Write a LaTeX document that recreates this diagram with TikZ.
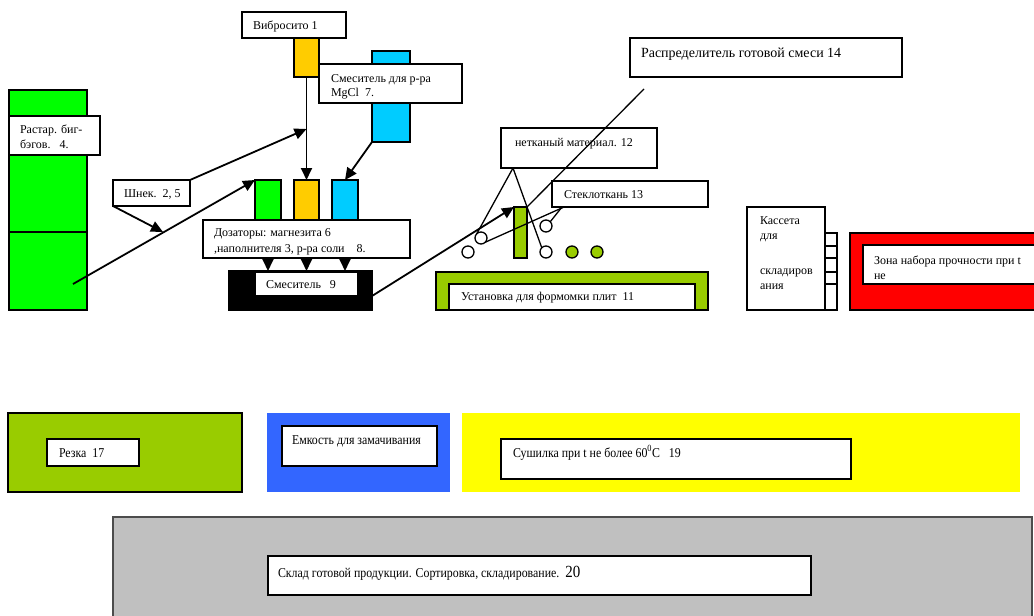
\documentclass[tikz,border=0pt]{standalone}
\usepackage{fontspec}
\setmainfont{Liberation Serif}
\usetikzlibrary{arrows.meta}
\definecolor{cgreen}{HTML}{00FF00}
\definecolor{corange}{HTML}{FFCC00}
\definecolor{ccyan}{HTML}{00CCFF}
\definecolor{colive}{HTML}{99CC00}
\definecolor{cred}{HTML}{FF0000}
\definecolor{cblue}{HTML}{3366FF}
\definecolor{cyellow}{HTML}{FFFF00}
\definecolor{cgray}{HTML}{C0C0C0}
\newcommand\fA{\fontsize{12}{14}\selectfont}
\newcommand\fC{\fontsize{14}{16}\selectfont}
\newcommand\fB{\fontsize{13.5}{16}\selectfont}
\newcommand\cond[1]{\scalebox{0.88}[1]{#1}}
\tikzset{
  box/.style={draw=black, line width=1.6pt, fill=white, inner sep=0pt, outer sep=0pt, anchor=north west},
  plain/.style={inner sep=0pt, outer sep=0pt, anchor=north west},
  lbl/.style={anchor=base west, inner sep=0pt, outer sep=0pt, font=\fA},
  lblb/.style={anchor=base west, inner sep=0pt, outer sep=0pt, font=\fB},
  arr/.style={line width=1.8pt, -{Triangle[length=12pt,width=11pt]}},
  thinl/.style={line width=1.3pt},
  circ/.style={circle, draw=black, line width=1.3pt, fill=white, minimum size=12pt, inner sep=0pt, outer sep=0pt},
}
\begin{document}
\begin{tikzpicture}[x=1pt,y=-1pt]
\useasboundingbox (0,0) rectangle (1034,616);
\clip (0,0) rectangle (1034,616);
% top left group
\node[box, minimum width=104pt, minimum height=26pt] (vib) at (242,12) {};
\node[lbl] (vibt) at (253,29) {Вибросито 1};
\node[box, fill=corange, minimum width=25pt, minimum height=39pt] (orTop) at (294,38) {};
\node[box, fill=ccyan, minimum width=38pt, minimum height=91pt] (blTop) at (372,51) {};
\node[box, minimum width=143pt, minimum height=39pt] (mgcl) at (319,64) {};
\node[lbl] (mgclt1) at (331,82) {Смеситель для р-ра};
\node[lbl] (mgclt2) at (331,96) {MgCl\ \ 7.};
\node[box, fill=cgreen, minimum width=78pt, minimum height=142pt] (grTa) at (9,90) {};
\node[box, fill=cgreen, minimum width=78pt, minimum height=78pt] (grTb) at (9,232) {};
\node[box, minimum width=91pt, minimum height=39pt] (rast) at (9,116) {};
\node[lbl] (rastt1) at (20,133) {Растар. биг-};
\node[lbl] (rastt2) at (20,148) {бэгов.\ \ \ 4.};
\node[box, minimum width=77pt, minimum height=26pt] (shnek) at (113,180) {};
\node[lbl] (shnekt) at (124,197) {Шнек.\ \ 2, 5};
\node[box, fill=cgreen, minimum width=26pt, minimum height=40pt] (grDoz) at (255,180) {};
\node[box, fill=corange, minimum width=25pt, minimum height=40pt] (orDoz) at (294,180) {};
\node[box, fill=ccyan, minimum width=26pt, minimum height=40pt] (blDoz) at (332,180) {};
\node[box, minimum width=207pt, minimum height=38pt] (doz) at (203,220) {};
\node[lbl] (dozt1) at (214,236) {Дозаторы: магнезита 6};
\node[lbl] (dozt2) at (214,252) {,наполнителя 3, р-ра соли\ \ \ \ 8.};
\node[box, fill=black, minimum width=143pt, minimum height=39pt] (black) at (229,271) {};
\node[box, minimum width=103pt, minimum height=24pt] (mix) at (255,272) {};
\node[lbl] (mixt) at (266,288) {Смеситель\ \ \ 9};
% connectors top left
\coordinate (j1) at (306.5,129);
\coordinate (j2) at (163,232);
\coordinate (s1) at (73,284);
\coordinate (b1) at (372,296);
\draw[arr] (orTop.south) -- (orDoz.north);
\draw[arr] (shnek.north east) -- (j1);
\draw[arr] (shnek.south west) -- (j2);
\draw[arr] (s1) -- (grDoz.north west);
\draw[arr] (blTop.south west) -- (blDoz.north);
\draw[arr] (grDoz.south |- doz.south) -- (grDoz.south |- black.north);
\draw[arr] (orDoz.south |- doz.south) -- (orDoz.south |- black.north);
\draw[arr] (blDoz.south |- doz.south) -- (blDoz.south |- black.north);
% middle group
\node[box, minimum width=272pt, minimum height=39pt] (distr) at (630,38) {};
\node[lbl, font=\fC] (distrt) at (641,57) {Распределитель готовой смеси 14};
\node[box, minimum width=156pt, minimum height=40pt] (netk) at (501,128) {};
\node[lbl] (netkt) at (515,146) {нетканый материал. 12};
\node[box, minimum width=156pt, minimum height=26pt] (stekl) at (552,181) {};
\node[lbl] (steklt) at (564,198) {Стеклоткань 13};
\node[box, fill=colive, minimum width=13pt, minimum height=51pt] (gbar) at (514,207) {};
\node[circ] (c1) at (468,252) {};
\node[circ] (c2) at (481,238) {};
\node[circ] (c3) at (546,226) {};
\node[circ] (c4) at (546,252) {};
\node[circ, fill=colive] (c5) at (572,252) {};
\node[circ, fill=colive] (c6) at (597,252) {};
\coordinate (d1) at (644,89);
\coordinate (n1) at (513,168);
\draw[thinl] (d1) -- (gbar.north east);
\draw[thinl] (n1) -- (c2.north west);
\draw[thinl] (n1) -- (c4.north west);
\draw[thinl] ([xshift=12pt]stekl.south west) -- (c2.south east);
\draw[thinl] ([xshift=10pt]stekl.south west) -- (c3.north east);
\draw[arr] (b1) -- (gbar.north west);
\node[box, fill=colive, minimum width=272pt, minimum height=38pt] (ust) at (436,272) {};
\node[box, minimum width=246pt, minimum height=26pt] (usti) at (449,284) {};
\node[lbl] (ustt) at (461,300) {Установка для формомки плит\ \ 11};
% cassette
\node[box, minimum width=78pt, minimum height=103pt] (kass) at (747,207) {};
\node[lbl] (kasst1) at (760,224) {Кассета};
\node[lbl] (kasst2) at (760,239) {для};
\node[lbl] (kasst3) at (760,274) {складиров};
\node[lbl] (kasst4) at (760,289) {ания};
\draw[line width=1.6pt] (825,233) rectangle (837,310);
\draw[line width=1.3pt] (825,246) -- (837,246) (825,258) -- (837,258) (825,272) -- (837,272) (825,284) -- (837,284);
\node[box, fill=cred, minimum width=200pt, minimum height=77pt] (red) at (850,233) {};
\node[box, minimum width=190pt, minimum height=39pt] (zona) at (863,245) {};
\node[lbl] (zonat1) at (874,264) {Зона набора прочности при t};
\node[lbl] (zonat2) at (874,279) {не};
% bottom group
\node[box, fill=colive, minimum width=234pt, minimum height=79pt] (rezka) at (8,413) {};
\node[box, minimum width=92pt, minimum height=27pt] (rezkai) at (47,439) {};
\node[lblb] (rezkat) at (59,457) {\cond{Резка\ \ 17}};
\node[plain, fill=cblue, minimum width=183pt, minimum height=79pt] (blue) at (267,413) {};
\node[box, minimum width=155pt, minimum height=40pt] (emk) at (282,426) {};
\node[lblb] (emkt) at (292,444) {\cond{Емкость для замачивания}};
\node[plain, fill=cyellow, minimum width=558pt, minimum height=79pt] (yel) at (462,413) {};
\node[box, minimum width=350pt, minimum height=40pt] (sush) at (501,439) {};
\node[lblb] (susht) at (513,457) {\cond{Сушилка при t не более 60\textsuperscript{0}С\ \ \ 19}};
\node[box, draw=black!70, fill=cgray, minimum width=919pt, minimum height=110pt] (gray) at (113,517) {};
\node[box, minimum width=543pt, minimum height=39pt] (sklad) at (268,556) {};
\node[lblb] (skladt) at (278,577) {\cond{Склад готовой продукции. Сортировка, складирование.\ \ {\fontsize{17}{19}\selectfont 20}}};
\end{tikzpicture}
\end{document}
